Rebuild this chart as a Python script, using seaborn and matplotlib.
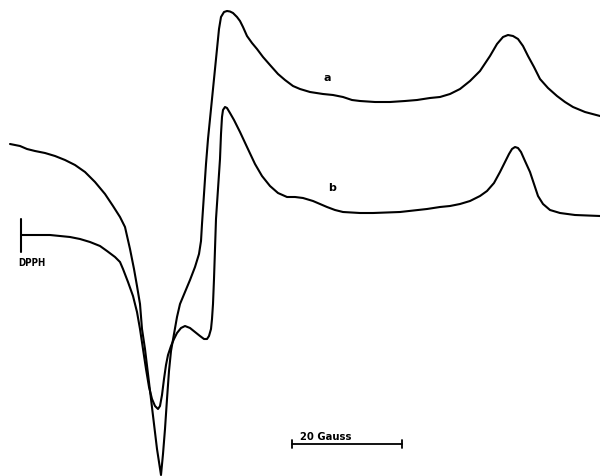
import matplotlib
matplotlib.use("Agg")
import matplotlib.pyplot as plt
import seaborn as sns
import pandas as pd

# EPR first-derivative traces (field position, chart-recorder deflection; deflection grows downward)
field_a = [10, 20, 27, 35, 45, 55, 65, 75, 85, 95, 105, 113, 120, 125, 130, 134, 137, 140,
           142, 145, 148, 151, 154, 157, 161, 163, 165, 167, 169, 171, 174, 177, 180, 185,
           190, 195, 199, 201, 202, 204, 206, 208, 211, 214, 217, 219, 221, 224, 227, 230,
           233, 237, 240, 243, 247, 252, 257, 263, 270, 278, 285, 293, 300, 310, 323, 333,
           343, 352, 360, 375, 390, 405, 417, 430, 440, 450, 460, 470, 480, 490, 497, 503,
           508, 513, 518, 523, 528, 534, 540, 548, 557, 565, 573, 585, 600]
deflect_a = [145, 147, 150, 152, 154, 157, 161, 166, 173, 183, 195, 207, 218, 228, 250, 270,
             287, 305, 330, 350, 375, 400, 425, 450, 476, 455, 430, 400, 372, 352, 335, 318,
             305, 293, 281, 268, 255, 242, 225, 195, 165, 140, 110, 80, 50, 30, 18, 13, 12,
             12.5, 14, 18, 22, 28, 37, 44, 50, 58, 66, 75, 81, 87, 90, 93, 95, 96, 98, 101,
             102, 103, 103, 102, 101, 99, 98, 95, 90, 82, 72, 57, 45, 38, 36, 37, 40, 47, 57,
             68, 80, 89, 97, 103, 108, 113, 117]

field_b = [21, 35, 50, 60, 70, 80, 90, 100, 107, 115, 120, 123, 128, 133, 137, 140, 143, 146,
           149, 152, 155, 158, 160, 162, 164, 166, 168, 171, 174, 177, 181, 185, 190, 195,
           200, 204, 207, 209, 211, 212, 213, 214, 215, 216, 218, 220, 221, 222, 223, 225,
           227, 230, 234, 240, 247, 255, 262, 270, 278, 287, 295, 303, 313, 320, 327, 335,
           343, 360, 373, 400, 427, 440, 450, 460, 470, 480, 487, 494, 500, 505, 509, 512,
           515, 518, 521, 525, 530, 534, 538, 543, 550, 560, 575, 600]
deflect_b = [236, 236, 236, 237, 238, 240, 243, 247, 252, 258, 263, 270, 283, 297, 313, 330,
             350, 370, 388, 400, 407, 410, 407, 396, 380, 366, 356, 347, 340, 334, 329, 327,
             329, 333, 337, 340, 340, 337, 330, 320, 305, 280, 250, 220, 190, 160, 135, 118,
             111, 108, 109, 114, 121, 133, 148, 165, 177, 187, 194, 198, 198, 199, 202, 205,
             208, 211, 213, 214, 214, 213, 210, 208, 207, 205, 202, 197, 192, 184, 173, 163,
             155, 150, 148, 149, 153, 162, 173, 185, 197, 205, 211, 214, 216, 217]

trace_labels = ["a", "b"]
label_pos = [(327, 78), (332, 188)]

# DPPH reference marker and 20 G scale bar
dpph_field = 21
dpph_span = (220, 253)
scale_start, scale_len = 292, 110
scale_y = 445
scale_text = "20 Gauss"

sns.set_theme(style="white")
plt.rcParams["font.family"] = ["DejaVu Sans"]

fig = plt.figure(figsize=(6.0, 4.77), dpi=100)
ax = fig.add_axes([0, 0, 1, 1])

df = pd.concat([
    pd.DataFrame({"field": field_a, "deflection": deflect_a, "trace": "a"}),
    pd.DataFrame({"field": field_b, "deflection": deflect_b, "trace": "b"}),
])
sns.lineplot(data=df, x="field", y="deflection", units="trace", estimator=None,
             sort=False, color="black", linewidth=1.5, ax=ax, legend=False)

for lab, (lx, ly) in zip(trace_labels, label_pos):
    ax.text(lx, ly, lab, ha="center", va="center", fontsize=8, fontweight="bold",
            color="black")

ax.plot([dpph_field, dpph_field], dpph_span, color="black", linewidth=1.5)
ax.text(dpph_field - 3, 263, "DPPH", ha="left", va="center", fontsize=7,
        fontweight="heavy", fontstretch="condensed", color="black")

ax.plot([scale_start, scale_start + scale_len], [scale_y, scale_y], color="black",
        linewidth=1.3)
for xe in (scale_start, scale_start + scale_len):
    ax.plot([xe, xe], [scale_y - 4, scale_y + 4], color="black", linewidth=1.3)
ax.text(scale_start + 8, scale_y - 3, scale_text, ha="left", va="bottom", fontsize=8,
        fontweight="heavy", fontstretch="condensed", color="black")

ax.set_xlim(0, 600)
ax.set_ylim(477, 0)
ax.axis("off")

fig.savefig("out.png", dpi=100, facecolor="white")
